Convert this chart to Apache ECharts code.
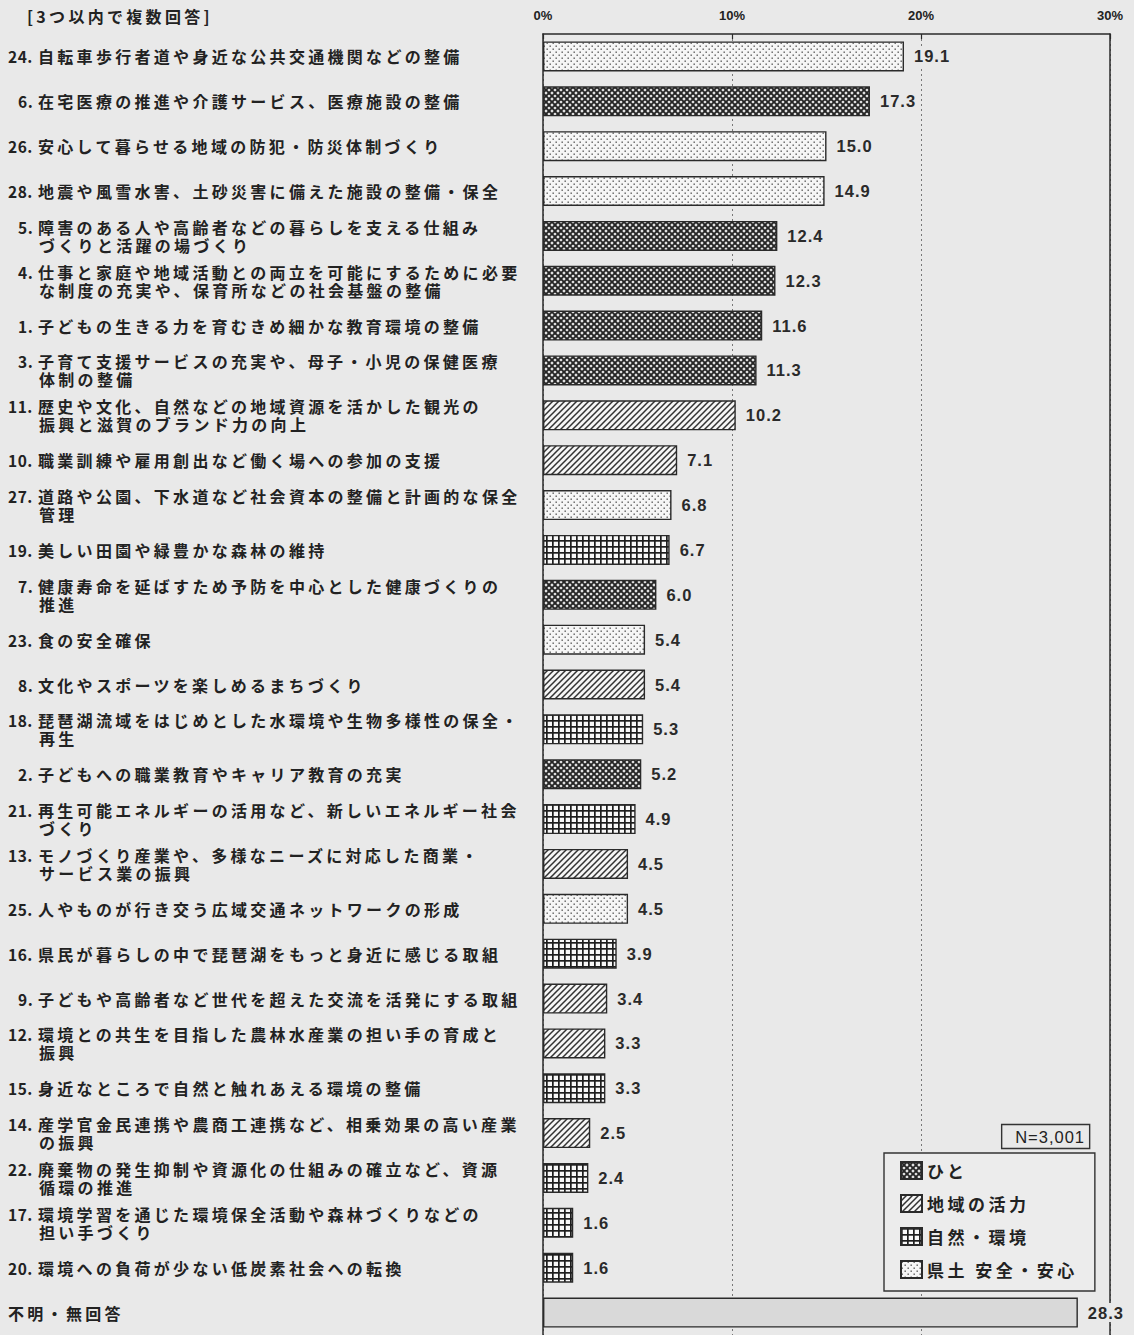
<!DOCTYPE html>
<html>
<head>
<meta charset="utf-8">
<script src="https://cdn.jsdelivr.net/npm/echarts@6/dist/echarts.min.js"></script>
<style>
html,body{margin:0;padding:0;background:#e9e9e9;}
#chart{width:1134px;height:1335px;}
svg text[style*="16px"]{letter-spacing:3.3px;}
svg text[style*="17px"]{letter-spacing:3.5px;}
svg text[style*="16.5px"]{letter-spacing:1px;}
svg text[style*="15.5px"]{letter-spacing:0.5px;}
</style>
</head>
<body>
<div id="chart"></div>
<script>
const categories = [
 '24. 自転車歩行者道や身近な公共交通機関などの整備',
 '6. 在宅医療の推進や介護サービス、医療施設の整備',
 '26. 安心して暮らせる地域の防犯・防災体制づくり',
 '28. 地震や風雪水害、土砂災害に備えた施設の整備・保全',
 '5. 障害のある人や高齢者などの暮らしを支える仕組み\nづくりと活躍の場づくり',
 '4. 仕事と家庭や地域活動との両立を可能にするために必要\nな制度の充実や、保育所などの社会基盤の整備',
 '1. 子どもの生きる力を育むきめ細かな教育環境の整備',
 '3. 子育て支援サービスの充実や、母子・小児の保健医療\n体制の整備',
 '11. 歴史や文化、自然などの地域資源を活かした観光の\n振興と滋賀のブランド力の向上',
 '10. 職業訓練や雇用創出など働く場への参加の支援',
 '27. 道路や公園、下水道など社会資本の整備と計画的な保全\n管理',
 '19. 美しい田園や緑豊かな森林の維持',
 '7. 健康寿命を延ばすため予防を中心とした健康づくりの\n推進',
 '23. 食の安全確保',
 '8. 文化やスポーツを楽しめるまちづくり',
 '18. 琵琶湖流域をはじめとした水環境や生物多様性の保全・\n再生',
 '2. 子どもへの職業教育やキャリア教育の充実',
 '21. 再生可能エネルギーの活用など、新しいエネルギー社会\nづくり',
 '13. モノづくり産業や、多様なニーズに対応した商業・\nサービス業の振興',
 '25. 人やものが行き交う広域交通ネットワークの形成',
 '16. 県民が暮らしの中で琵琶湖をもっと身近に感じる取組',
 '9. 子どもや高齢者など世代を超えた交流を活発にする取組',
 '12. 環境との共生を目指した農林水産業の担い手の育成と\n振興',
 '15. 身近なところで自然と触れあえる環境の整備',
 '14. 産学官金民連携や農商工連携など、相乗効果の高い産業\nの振興',
 '22. 廃棄物の発生抑制や資源化の仕組みの確立など、資源\n循環の推進',
 '17. 環境学習を通じた環境保全活動や森林づくりなどの\n担い手づくり',
 '20. 環境への負荷が少ない低炭素社会への転換',
 '不明・無回答'
];
const values = [19.1, 17.3, 15.0, 14.9, 12.4, 12.3, 11.6, 11.3, 10.2, 7.1, 6.8, 6.7, 6.0, 5.4, 5.4, 5.3, 5.2, 4.9, 4.5, 4.5, 3.9, 3.4, 3.3, 3.3, 2.5, 2.4, 1.6, 1.6, 28.3];
const groups = ['県土 安全・安心','ひと','県土 安全・安心','県土 安全・安心','ひと','ひと','ひと','ひと','地域の活力','地域の活力','県土 安全・安心','自然・環境','ひと','県土 安全・安心','地域の活力','自然・環境','ひと','自然・環境','地域の活力','県土 安全・安心','自然・環境','地域の活力','地域の活力','自然・環境','地域の活力','自然・環境','自然・環境','自然・環境','不明'];
const legendNames = ['ひと','地域の活力','自然・環境','県土 安全・安心'];
const xTicks = {min: 0, max: 30, interval: 10};
const noteText = 'N=3,001';
const headerText = '[3つ以内で複数回答]';

const BG = '#e9e9e9';

function pattern(kind){
  const c = document.createElement('canvas');
  c.width = 6; c.height = 6;
  const g = c.getContext('2d');
  if (kind === 'ひと') {
    g.fillStyle = '#e6e6e6'; g.fillRect(0,0,6,6);
    g.strokeStyle = '#262626'; g.lineWidth = 1.9;
    g.beginPath();
    g.moveTo(-1,-1); g.lineTo(7,7);
    g.moveTo(-1,7); g.lineTo(7,-1);
    g.moveTo(-4,2); g.lineTo(2,-4); g.moveTo(4,10); g.lineTo(10,4);
    g.moveTo(2,10); g.lineTo(-4,4); g.moveTo(10,2); g.lineTo(4,-4);
    g.stroke();
  } else if (kind === '地域の活力') {
    g.fillStyle = '#f6f6f6'; g.fillRect(0,0,6,6);
    g.strokeStyle = '#333'; g.lineWidth = 1.5;
    g.beginPath();
    g.moveTo(-1,7); g.lineTo(7,-1);
    g.moveTo(-1,1); g.lineTo(1,-1);
    g.moveTo(5,7); g.lineTo(7,5);
    g.stroke();
  } else if (kind === '自然・環境') {
    g.fillStyle = '#f8f8f8'; g.fillRect(0,0,6,6);
    g.fillStyle = '#1e1e1e';
    g.fillRect(0,0,6,1.7); g.fillRect(0,0,1.7,6);
  } else if (kind === '県土 安全・安心') {
    g.fillStyle = '#f6f6f6'; g.fillRect(0,0,6,6);
    g.fillStyle = '#5a5a5a';
    g.fillRect(0.5,0.5,1.4,1.4); g.fillRect(3.5,3.5,1.4,1.4);
  } else {
    g.fillStyle = '#d9d9d9'; g.fillRect(0,0,6,6);
  }
  return {image: c, repeat: 'repeat'};
}

const labelFont = '"Noto Sans CJK JP", sans-serif';
const numFont = '"Liberation Sans", Arial, sans-serif';

function fmtLabel(v){
  const lines = v.split('\n');
  const m = lines[0].match(/^(\d+\.)\s(.*)$/);
  if (!m) return '{u|' + v + '}';
  let s = m[1].length > 2 ? '{n|' + m[1] + '}' : '{sp|}{n1|' + m[1] + '}';
  s += '{t|' + m[2] + '}';
  for (let i = 1; i < lines.length; i++) s += '\n{ind|}{t|' + lines[i] + '}';
  return s;
}

const txt = {fontFamily: labelFont, fontWeight: 'bold', color: '#222', lineHeight: 18};
const allNames = legendNames.concat(['不明']);
const series = allNames.map(function(name){
  return {
    name: name,
    type: 'bar',
    barWidth: 30,
    barGap: '-100%',
    data: values.map(function(v, i){ return groups[i] === name ? v : '-'; }),
    itemStyle: {color: pattern(name), borderColor: '#2a2a2a', borderWidth: 1.4},
    label: {
      show: true, position: 'right', distance: 8,
      formatter: function(p){ return Number(p.value).toFixed(1); },
      fontFamily: numFont, fontSize: 16.5, fontWeight: 'bold', color: '#2a2a2a',
      backgroundColor: BG, padding: [1, 2]
    },
    emphasis: {disabled: true}
  };
});

const chart = echarts.init(document.getElementById('chart'), null, {renderer: 'svg'});
chart.setOption({
  backgroundColor: BG,
  animation: false,
  title: [
    {text: headerText, left: 22, top: 3, textStyle: {fontFamily: labelFont, fontSize: 16, fontWeight: 'bold', color: '#222'}},
    {text: noteText, right: 44, top: 1124, padding: [4, 12, 4, 14], borderColor: '#333', borderWidth: 1.4,
     textStyle: {fontFamily: numFont, fontSize: 16.5, fontWeight: 'normal', color: '#222'}}
  ],
  legend: {
    data: legendNames, orient: 'vertical', left: 884, top: 1153,
    icon: 'rect',
    itemWidth: 21, itemHeight: 17, itemGap: 14, itemTextGap: 11,
    padding: [8, 45, 12, 16], borderColor: '#333', borderWidth: 1.4,
    backgroundColor: '#ececec',
    textStyle: {fontFamily: labelFont, fontSize: 17, fontWeight: 'bold', color: '#222'},
    selectedMode: false
  },
  grid: {left: 543, right: 24, top: 34, height: 1305, containLabel: false},
  xAxis: {
    type: 'value', position: 'top', min: xTicks.min, max: xTicks.max, interval: xTicks.interval,
    axisLine: {show: true, lineStyle: {color: '#2a2a2a', width: 1.5}},
    axisTick: {show: true, inside: true, length: 5, lineStyle: {color: '#2a2a2a', width: 1.2}},
    axisLabel: {formatter: '{value}%', margin: 12, fontFamily: numFont, fontSize: 13, fontWeight: 'bold', color: '#222'},
    splitLine: {show: true, lineStyle: {color: '#777', width: 1, type: [2, 3]}}
  },
  yAxis: [
    {
      type: 'category', inverse: true, data: categories,
      axisLine: {show: true, lineStyle: {color: '#2a2a2a', width: 1.5}},
      axisTick: {show: false},
      axisLabel: {
        align: 'left', margin: 535, formatter: fmtLabel, interval: 0,
        rich: {
          n: Object.assign({width: 30, fontSize: 15.5}, txt),
          n1: Object.assign({width: 20, fontSize: 15.5}, txt),
          sp: {width: 10, height: 18},
          ind: {width: 31, height: 18},
          t: Object.assign({fontSize: 16}, txt),
          u: Object.assign({fontSize: 16}, txt)
        }
      }
    },
    {
      type: 'category', inverse: true, position: 'right', data: categories,
      axisLine: {show: true, lineStyle: {color: '#2a2a2a', width: 1.5}},
      axisTick: {show: false}, axisLabel: {show: false}, splitLine: {show: false}
    }
  ],
  series: series
});
</script>
</body>
</html>
